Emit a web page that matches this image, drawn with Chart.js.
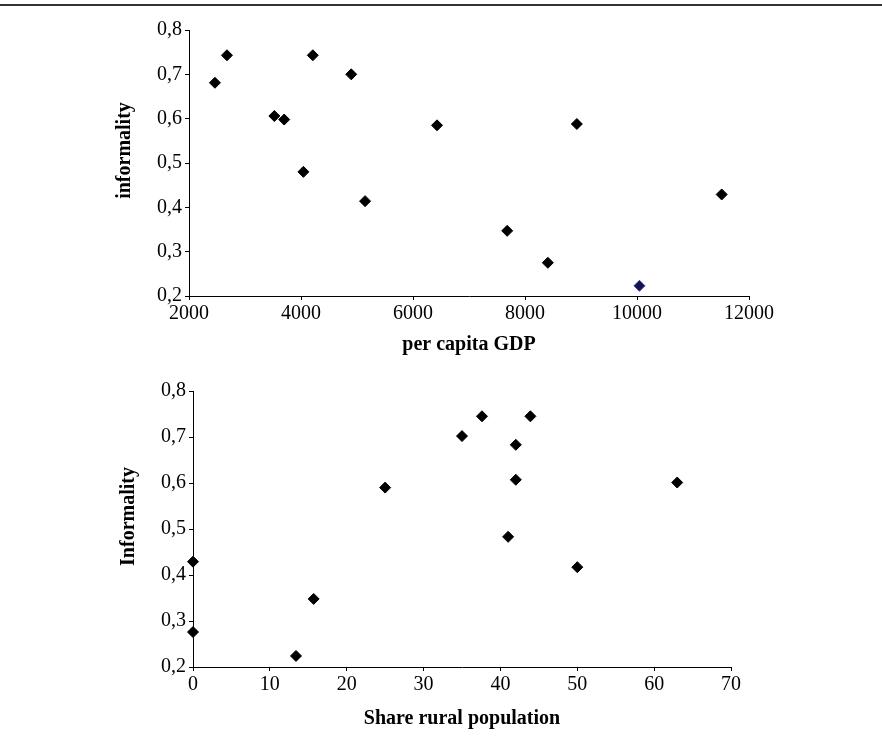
<!DOCTYPE html>
<html>
<head>
<meta charset="utf-8">
<script src="https://cdn.jsdelivr.net/npm/chart.js@4/dist/chart.umd.min.js"></script>
<style>
  html, body { margin: 0; padding: 0; background: #fff; }
  body { width: 882px; height: 745px; position: relative; overflow: hidden; }
  #rule { position: absolute; left: 0; top: 4px; width: 882px; height: 2px; background: #333; }
  #c1 { position: absolute; left: 0; top: 0; }
  #c2 { position: absolute; left: 0; top: 360px; }
</style>
</head>
<body>
<div id="rule"></div>
<canvas id="c1" width="882" height="360"></canvas>
<canvas id="c2" width="882" height="385"></canvas>
<script>
// ---- data ----
const gdpPerCapita = [2463, 2678, 3524, 3700, 4043, 4211, 4897, 5144, 6429, 7682, 8408, 8926, 10044, 11512];
const informalityByGdp = [0.681, 0.743, 0.606, 0.598, 0.480, 0.743, 0.700, 0.414, 0.585, 0.347, 0.275, 0.588, 0.223, 0.429];
const highlightedIndex = 12;

const shareRural = [0, 0, 13.4, 15.7, 25.0, 35.0, 37.6, 41.0, 42.0, 42.0, 43.9, 50.0, 63.0];
const informalityByRural = [0.429, 0.276, 0.224, 0.348, 0.590, 0.702, 0.745, 0.483, 0.683, 0.607, 0.745, 0.417, 0.601];

const gdpTicks = [2000, 4000, 6000, 8000, 10000, 12000];
const ruralTicks = [0, 10, 20, 30, 40, 50, 60, 70];
const informalityTicks = [0.2, 0.3, 0.4, 0.5, 0.6, 0.7, 0.8];

// ---- styling ----
const FONT = "'Liberation Serif', 'Times New Roman', serif";
const tickFont = { family: FONT, size: 20 };
const titleFont = { family: FONT, size: 20, weight: 'bold' };

function pts(xs, ys) { return xs.map((x, i) => ({ x: x, y: ys[i] })); }
function comma(v) { return Number(v).toFixed(1).replace('.', ','); }

function makeChart(id, cfg) {
  const ctx = document.getElementById(id);
  return new Chart(ctx, {
    type: 'scatter',
    data: {
      datasets: [{
        data: pts(cfg.xs, cfg.ys),
        clip: false,
        pointStyle: 'rectRot',
        pointRadius: 5.5,
        pointHoverRadius: 5.5,
        pointBackgroundColor: cfg.xs.map((_, i) => i === cfg.hi ? '#14144a' : '#000'),
        pointBorderColor: cfg.xs.map((_, i) => i === cfg.hi ? '#3b3ba8' : '#000'),
        pointBorderWidth: 1
      }]
    },
    options: {
      responsive: false,
      animation: false,
      devicePixelRatio: 1,
      layout: { padding: { left: 0, top: cfg.top, right: cfg.right, bottom: 0 } },
      plugins: { legend: { display: false }, tooltip: { enabled: false } },
      scales: {
        x: {
          type: 'linear',
          min: cfg.xTicks[0],
          max: cfg.xTicks[cfg.xTicks.length - 1],
          afterBuildTicks: (s) => { s.ticks = cfg.xTicks.map(v => ({ value: v })); },
          afterFit: (s) => { s.height = cfg.xH; },
          grid: { drawOnChartArea: false, drawTicks: true, tickLength: 4, color: '#000' },
          border: { display: true, color: '#000', width: 1 },
          ticks: { font: tickFont, color: '#000', padding: 2, maxRotation: 0, autoSkip: false,
                   callback: (v) => String(v) },
          title: { display: true, text: cfg.xTitle, font: titleFont, color: '#000',
                   padding: { top: 0, bottom: cfg.xTitlePad } }
        },
        y: {
          type: 'linear',
          min: 0.2,
          max: 0.8,
          afterBuildTicks: (s) => { s.ticks = informalityTicks.map(v => ({ value: v })); },
          afterFit: (s) => { s.width = cfg.left; },
          grid: { drawOnChartArea: false, drawTicks: true, tickLength: 4, color: '#000' },
          border: { display: true, color: '#000', width: 1 },
          ticks: { font: tickFont, color: '#000', padding: 3, callback: (v) => comma(v) },
          title: { display: true, text: cfg.yTitle, font: titleFont, color: '#000',
                   padding: { top: cfg.yTitlePad, bottom: 0 } }
        }
      }
    }
  });
}

makeChart('c1', {
  xs: gdpPerCapita, ys: informalityByGdp, hi: highlightedIndex,
  xTicks: gdpTicks, xTitle: 'per capita GDP', yTitle: '     informality',
  top: 30, right: 133, left: 189, xH: 64, xTitlePad: 3, yTitlePad: 113
});

makeChart('c2', {
  xs: shareRural, ys: informalityByRural, hi: -1,
  xTicks: ruralTicks, xTitle: 'Share rural population', yTitle: '     Informality',
  top: 31, right: 151, left: 193, xH: 78, xTitlePad: 14, yTitlePad: 117
});
</script>
</body>
</html>
